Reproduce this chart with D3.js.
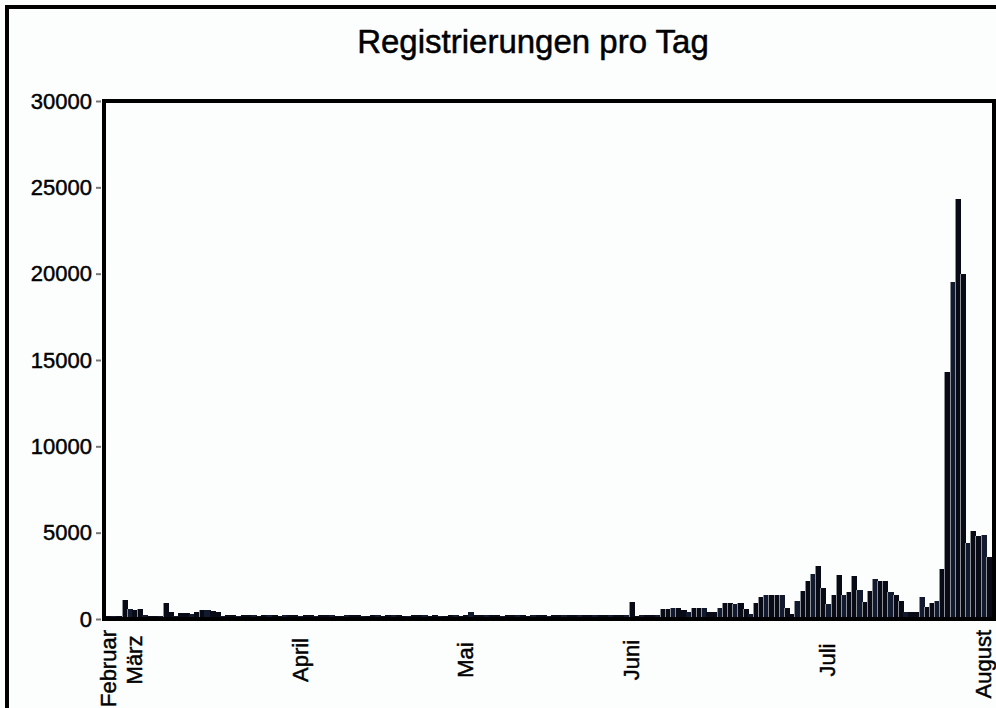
<!DOCTYPE html>
<html>
<head>
<meta charset="utf-8">
<script src="https://cdn.jsdelivr.net/npm/d3@7"></script>
<style>
  body { margin: 0; background: #fcfefe; }
  svg { display: block; font-family: "Liberation Sans", Arial, sans-serif; }
</style>
</head>
<body>
<div id="chart"></div>
<script>
// registrations per day, one value per bar
const regs = [
  150, 150, 200, 1100, 600, 500, 600, 250, 150, 150,
  200, 900, 400, 200, 350, 350, 300, 400, 550, 500,
  450, 400, 200, 220, 240, 200, 210, 250, 220, 200,
  210, 240, 220, 180, 210, 230, 210, 190, 220, 230,
  200, 210, 250, 210, 180, 190, 210, 230, 210, 200,
  170, 210, 220, 190, 210, 240, 210, 180, 200, 210,
  230, 210, 190, 210, 170, 200, 210, 220, 190, 210,
  420, 240, 210, 230, 210, 220, 200, 210, 240, 220,
  210, 190, 210, 230, 210, 200, 220, 210, 240, 230,
  210, 220, 250, 210, 230, 240, 210, 250, 230, 240,
  220, 1000, 200, 250, 250, 250, 220, 600, 600, 650,
  650, 500, 430, 650, 650, 650, 380, 380, 650, 950,
  950, 850, 950, 600, 300, 950, 1250, 1400, 1400, 1400,
  1400, 650, 300, 1050, 1630, 2200, 2600, 3070, 1780, 880,
  1400, 2540, 1400, 1550, 2470, 1690, 1000, 1630, 2300, 2190,
  2190, 1560, 1400, 1060, 430, 430, 430, 1290, 700, 900,
  1050, 2900, 14300, 19500, 24300, 20000, 4400, 5100, 4800, 4850, 3600
];
const days = regs.map((d, i) => i);

const months = ['Februar', 'März', 'April', 'Mai', 'Juni', 'Juli', 'August'];
const monthDay = [0, 5, 37, 69, 101, 139, 169];
const yTicks = [0, 5000, 10000, 15000, 20000, 25000, 30000];

const W = 996, H = 708;
const svg = d3.select('#chart').append('svg')
  .attr('width', W)
  .attr('height', H);

// outer frame (runs off the right/bottom like the original crop)
svg.append('rect')
  .attr('x', 7).attr('y', 7)
  .attr('width', 1100).attr('height', 800)
  .attr('fill', 'none')
  .attr('stroke', '#000')
  .attr('stroke-width', 4);

svg.append('text')
  .attr('x', 533).attr('y', 53)
  .attr('text-anchor', 'middle')
  .attr('font-size', 33)
  .attr('fill', '#000')
  .attr('stroke', '#000')
  .attr('stroke-width', 0.5)
  .text('Registrierungen pro Tag');

const x = d3.scaleBand()
  .domain(days)
  .range([106, 991])
  .padding(0);

const y = d3.scaleLinear()
  .domain([0, 30000])
  .range([619, 101]);

const bars = svg.append('g').attr('shape-rendering', 'crispEdges');

bars.selectAll('.bar')
  .data(regs)
  .enter().append('rect')
  .attr('class', 'bar')
  .attr('x', (d, i) => x(i))
  .attr('y', d => y(d))
  .attr('width', x.bandwidth() + 1)
  .attr('height', d => y(0) - y(d))
  .attr('fill', (d, i) => i % 3 === 1 ? '#121a30' : '#080b16');

// light left edge on the taller bars, like the original rendering
bars.selectAll('.edge')
  .data(regs)
  .enter().append('rect')
  .attr('class', 'edge')
  .attr('x', (d, i) => Math.round(x(i)))
  .attr('y', d => y(d))
  .attr('width', 1)
  .attr('height', d => d > 500 ? y(0) - y(d) : 0)
  .attr('fill', '#8d9094');

// plot frame
svg.append('rect')
  .attr('x', 104).attr('y', 101)
  .attr('width', 890).attr('height', 518)
  .attr('fill', 'none')
  .attr('stroke', '#000')
  .attr('stroke-width', 4);

const yAxis = svg.append('g')
  .attr('transform', 'translate(101,0)')
  .call(d3.axisLeft(y).tickValues(yTicks).tickSize(5).tickPadding(4).tickFormat(d3.format('d')));
yAxis.select('.domain').remove();
yAxis.selectAll('line').attr('stroke', '#777').attr('stroke-width', 2);
yAxis.selectAll('text')
  .attr('font-size', 22)
  .attr('font-family', '"Liberation Sans", Arial, sans-serif')
  .attr('fill', '#000')
  .attr('stroke', '#000')
  .attr('stroke-width', 0.45);

const xAxis = svg.append('g')
  .attr('transform', 'translate(0,619)')
  .call(d3.axisBottom(x).tickValues(monthDay).tickSize(0)
    .tickFormat(d => months[monthDay.indexOf(d)]));
xAxis.select('.domain').remove();
xAxis.selectAll('text')
  .attr('font-size', 22)
  .attr('font-family', '"Liberation Sans", Arial, sans-serif')
  .attr('fill', '#000')
  .attr('stroke', '#000')
  .attr('stroke-width', 0.45)
  .attr('text-anchor', 'middle')
  .attr('dy', null)
  .attr('y', null)
  .attr('dominant-baseline', 'central')
  .attr('transform', function() {
    const len = this.getComputedTextLength();
    const cy = Math.max(41, 11 + len / 2);
    return `translate(0,${cy}) rotate(-90)`;
  });
</script>
</body>
</html>
